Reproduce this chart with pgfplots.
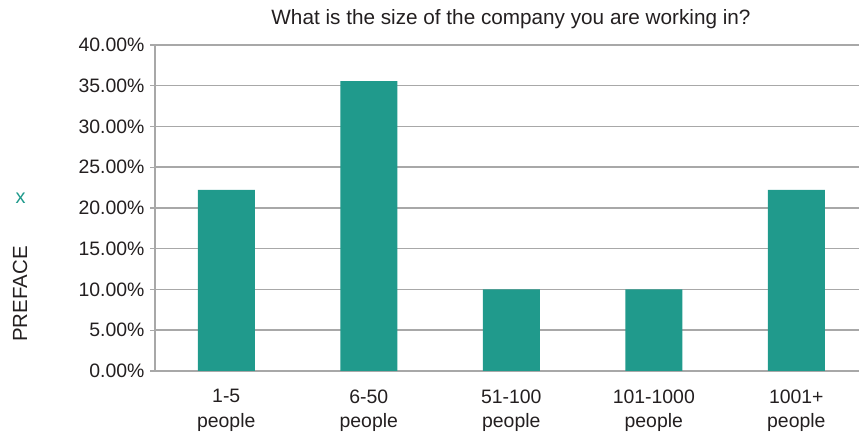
\documentclass[border=0pt]{standalone}
\usepackage{pgfplots}
\pgfplotsset{compat=1.18}
\usepackage{fontspec}
\setmainfont{Liberation Sans}
\definecolor{barteal}{RGB}{32,154,140}
\definecolor{gridgray}{RGB}{168,168,168}
\definecolor{ink}{RGB}{35,31,32}
\begin{document}
\begin{tikzpicture}[x=1bp,y=1bp]
\useasboundingbox (0,0) rectangle (859,434);
% page margin marks
\node[text=barteal, font=\fontsize{20}{24}\selectfont] at (20.5,235.5) {x};
\node[text=ink, rotate=90, font=\fontsize{20.5}{24}\selectfont] at (20,140) {PREFACE};
% chart title
\node[text=ink, anchor=base, font=\fontsize{20.8}{25}\selectfont] at (511,409) {What is the size of the company you are working in?};
\begin{axis}[
  at={(155bp,63bp)}, anchor=south west,
  scale only axis, width=704bp, height=326bp,
  xmin=-0.5, xmax=4.44, ymin=0, ymax=40,
  axis x line=bottom, axis y line=left,
  axis line style={-, draw=gridgray, line width=1.5pt},
  ybar, bar width=57bp,
  xtick={0,1,2,3,4},
  xticklabels={{1-5\\people},{6-50\\people},{51-100\\people},{101-1000\\people},{1001+\\people}},
  minor xtick={-0.5,0.5,1.5,2.5,3.5},
  xtick style={draw=none},
  minor tick style={draw=gridgray, line width=1.2pt},
  minor tick length=5bp,
  ytick={0,5,...,40},
  ytick style={draw=gridgray, line width=1.2pt},
  major tick length=5bp,
  tick align=outside,
  ymajorgrids,
  major grid style={draw=gridgray, line width=1.5pt},
  /pgf/number format/assume math mode=true,
  yticklabel={\pgfmathprintnumber[fixed,fixed zerofill,precision=2]{\tick}\%},
  tick label style={text=ink, font=\fontsize{19.5}{24.5}\selectfont},
  xticklabel style={align=center, yshift=-10bp},
  yticklabel style={xshift=-2bp},
]
\addplot[fill=barteal, draw=none] coordinates {
  (0,22.22) (1,35.56) (2,10.00) (3,10.00) (4,22.22)
};
\end{axis}
\end{tikzpicture}
\end{document}
